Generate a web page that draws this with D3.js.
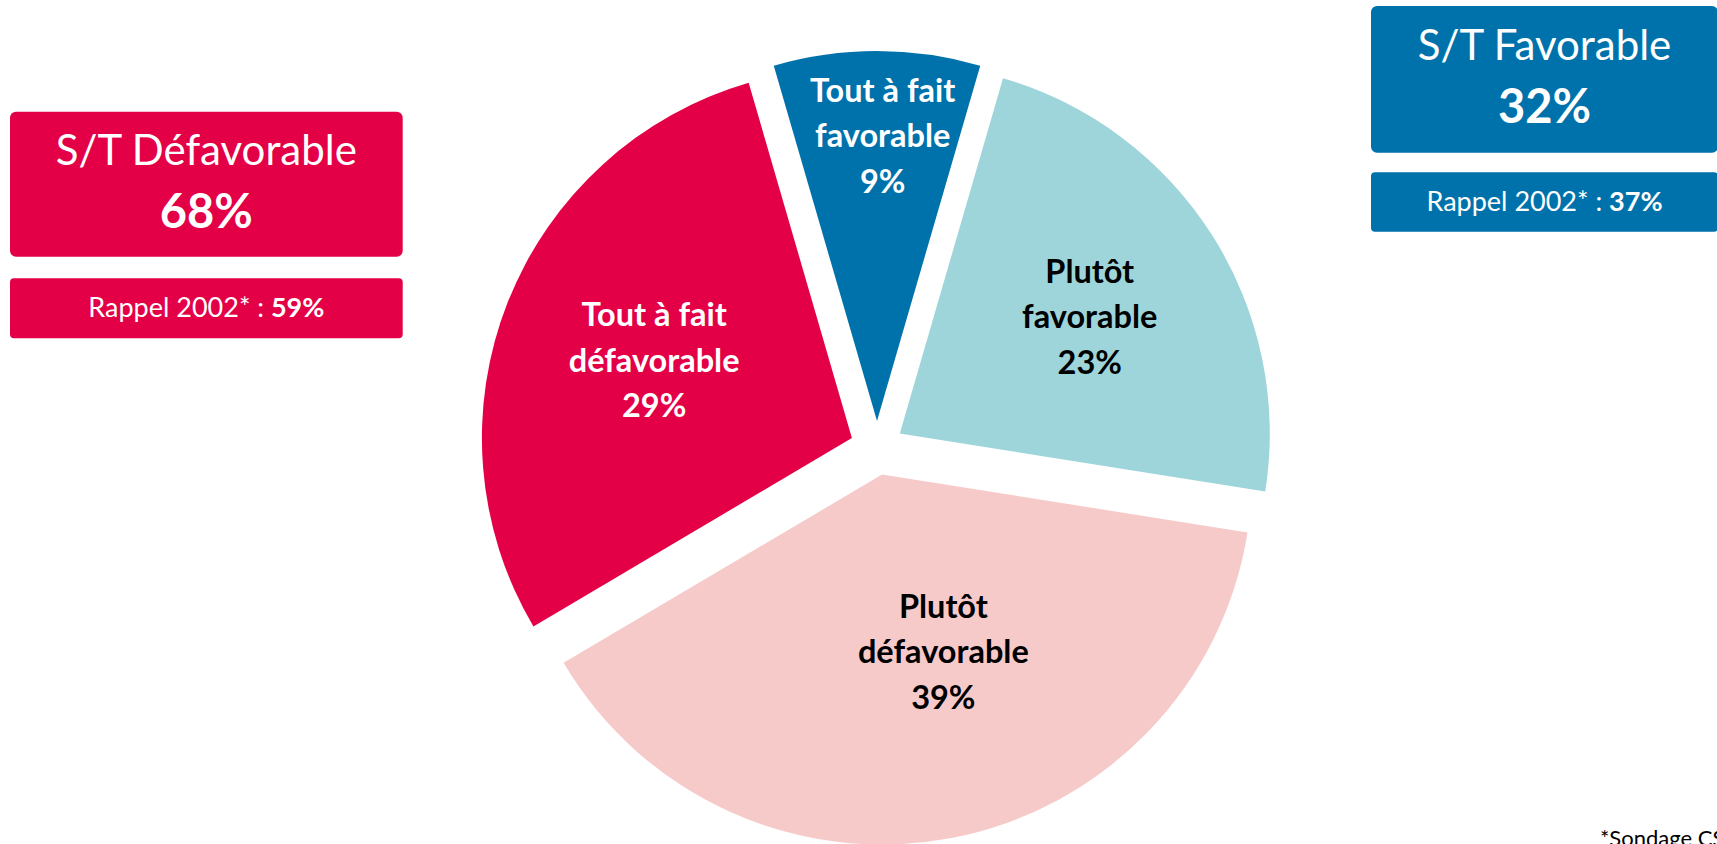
<!DOCTYPE html>
<html><head><meta charset="utf-8">
<script src="https://cdn.jsdelivr.net/npm/d3@7"></script>
<style>html,body{margin:0;padding:0;background:#fff;overflow:hidden}</style>
</head><body><svg id="chart" width="1717" height="844"></svg>
<script>
// ---- data ----
const categories = ["Tout à fait favorable", "Plutôt favorable", "Plutôt défavorable", "Tout à fait défavorable"];
const labelLines = [["Tout à fait", "favorable"], ["Plutôt", "favorable"], ["Plutôt", "défavorable"], ["Tout à fait", "défavorable"]];
const values = [9, 23, 39, 29];
const summaryTitles = ["S/T Défavorable", "S/T Favorable"];
const summaryValues = [68, 32];
const rappelValues = [59, 37];
const rappelLabel = "Rappel 2002* :";
const footnote = "*Sondage CSA";

// ---- styles / layout ----
const colors = ["#0072AB", "#9DD5DA", "#F7CACA", "#E40046"];
const textColors = ["#ffffff", "#000000", "#000000", "#ffffff"];
const labelRadiusFrac = [0.74, 0.587, 0.536, 0.564];
const labelAngleShiftDeg = [1.2, 3.4, -7.2, -3.0];
const boxColors = ["#E40046", "#0072AB"];
const boxLayout = [
  {x: 10, y: 111.7, w: 392.7, h: 145, sy: 278.3, sh: 60},
  {x: 1371, y: 6, w: 347, h: 146.7, sy: 172.3, sh: 59.4}
];
const W = 1717, H = 844;
const cx = 877, cy = 448, R = 370, explode = 27;
const FONT = "Lato, 'Open Sans', sans-serif";

const svg = d3.select("#chart");

// ---- pie ----
const total = d3.sum(values);
const start = -values[0] / total * Math.PI;
const pie = d3.pie().sort(null).value(d => d).startAngle(start).endAngle(start + 2 * Math.PI);
const arc = d3.arc().innerRadius(0).outerRadius(R);
const arcs = pie(values);

const g = svg.append("g").attr("transform", `translate(${cx},${cy})`);
const slice = g.selectAll("g.slice").data(arcs).enter().append("g")
  .attr("class", "slice")
  .attr("transform", d => {
    const a = (d.startAngle + d.endAngle) / 2;
    return `translate(${Math.sin(a) * explode},${-Math.cos(a) * explode})`;
  });
slice.append("path").attr("d", arc).attr("fill", (d, i) => colors[i]);

slice.each(function (d, i) {
  const a = (d.startAngle + d.endAngle) / 2 + labelAngleShiftDeg[i] * Math.PI / 180;
  const r = labelRadiusFrac[i] * R;
  const lx = Math.sin(a) * r, ly = -Math.cos(a) * r;
  const lines = labelLines[i].concat([d3.format(".0f")(values[i]) + "%"]);
  const t = d3.select(this).append("text")
    .attr("text-anchor", "middle")
    .attr("font-family", FONT).attr("font-weight", 700).attr("font-size", 32.5)
    .attr("fill", textColors[i]);
  lines.forEach((s, k) => {
    t.append("tspan").attr("x", lx).attr("y", ly + (k - 1) * 45.5).text(s);
  });
});

// ---- summary boxes ----
boxLayout.forEach((b, i) => {
  const mx = b.x + b.w / 2;
  svg.append("rect").attr("x", b.x).attr("y", b.y).attr("width", b.w).attr("height", b.h)
    .attr("rx", 6).attr("fill", boxColors[i]);
  svg.append("text").attr("x", mx).attr("y", b.y + 53.5).attr("text-anchor", "middle")
    .attr("font-family", FONT).attr("font-size", 42).attr("fill", "#fff").text(summaryTitles[i]);
  svg.append("text").attr("x", mx).attr("y", b.y + 116.5).attr("text-anchor", "middle")
    .attr("font-family", FONT).attr("font-weight", 700).attr("font-size", 47).attr("fill", "#fff")
    .text(summaryValues[i] + "%");
  svg.append("rect").attr("x", b.x).attr("y", b.sy).attr("width", b.w).attr("height", b.sh)
    .attr("rx", 4).attr("fill", boxColors[i]);
  const st = svg.append("text").attr("x", mx).attr("y", b.sy + 39).attr("text-anchor", "middle")
    .attr("font-family", FONT).attr("font-size", 27).attr("fill", "#fff");
  st.append("tspan").text(rappelLabel + " ");
  st.append("tspan").attr("font-weight", 700).text(rappelValues[i] + "%");
});

// ---- footnote ----
svg.append("text").attr("x", 1600).attr("y", 846).attr("font-family", FONT)
  .attr("font-size", 22).attr("fill", "#000").text(footnote);
</script>
</body></html>
